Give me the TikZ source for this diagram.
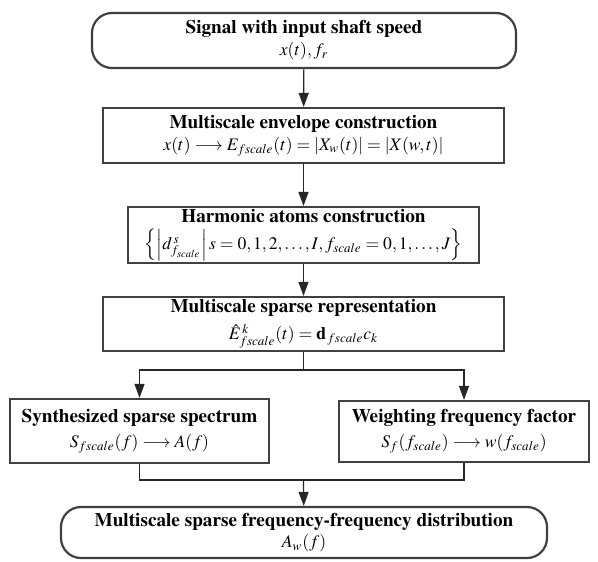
\documentclass[tikz,border=0pt]{standalone}
\usepackage[T1]{fontenc}
\usepackage{mathptmx}
\usetikzlibrary{arrows.meta}

\definecolor{linegray}{HTML}{404040}

\tikzset{
  blk/.style={draw=linegray, line width=1.1pt, align=center, inner sep=0pt,
    font=\fontsize{9.6}{10.5}\selectfont},
  term/.style={blk, rounded corners=10pt},
  conn/.style={draw=black!85, line width=0.6pt},
  arr/.style={conn, -{Triangle[length=7pt,width=5pt]}}
}

\newcommand{\ttl}[1]{{\bfseries #1}}
\newcommand{\eqline}[1]{{\fontsize{8.8}{9.5}\selectfont $#1$}}

\begin{document}
\begin{tikzpicture}[x=0.5pt, y=-0.5pt]
          \useasboundingbox (0,0) rectangle (598,561);

          % Main column
          \node[term, minimum width=212pt, minimum height=27.5pt] (start) at (304,40.5)
            {\ttl{Signal with input shaft speed}\\[0.5pt]\eqline{x(t), f_r}};
          \node[blk, minimum width=200.5pt, minimum height=27.5pt] (env) at (303.5,135.5)
            {\ttl{Multiscale envelope construction}\\[0.5pt]\eqline{x(t) \longrightarrow E_{fscale}(t) = \left|X_w(t)\right| = \left|X(w,t)\right|}};
          \node[blk, minimum width=175.5pt, minimum height=28pt] (atoms) at (303.5,235)
            {\ttl{Harmonic atoms construction}\\[3pt]\eqline{\left\{\left| d^{\,s}_{f_{scale}} \right| s = 0,1,2,\ldots,I, f_{scale} = 0,1,\ldots,J \right\}}};
          \node[blk, minimum width=200.5pt, minimum height=27pt] (sparse) at (303.5,324)
            {\ttl{Multiscale sparse representation}\\[3pt]\eqline{\hat{E}^{\,k}_{fscale}(t) = \mathbf{d}_{\,fscale}c_k}};

          % Two branches
          \node[blk, minimum width=129.5pt, minimum height=32pt] (synth) at (139.5,431)
            {\ttl{Synthesized sparse spectrum}\\[2pt]\eqline{S_{fscale}(f) \longrightarrow A(f)}};
          \node[blk, minimum width=125pt, minimum height=30.5pt] (weight) at (464,431.5)
            {\ttl{Weighting frequency factor}\\[2pt]\eqline{S_f(f_{scale}) \longrightarrow w(f_{scale})}};

          % Output
          \node[term, minimum width=243pt, minimum height=25.5pt] (dist) at (304,532.5)
            {\ttl{Multiscale sparse frequency-frequency distribution}\\[0pt]\eqline{A_w(f)}};

          \coordinate (split) at (303.5,370);
          \coordinate (join) at (303.5,480);

          % Connectors
          \draw[arr] (start) -- (env);
          \draw[arr] (env) -- (atoms);
          \draw[arr] (atoms) -- (sparse);
          \draw[conn] (sparse) -- (split);
          \draw[arr] (split) -| (synth);
          \draw[arr] (split) -| (weight);
          \draw[conn] (synth) |- (join);
          \draw[conn] (weight) |- (join);
          \draw[arr] (join) -- (dist);

        \end{tikzpicture}
\end{document}
